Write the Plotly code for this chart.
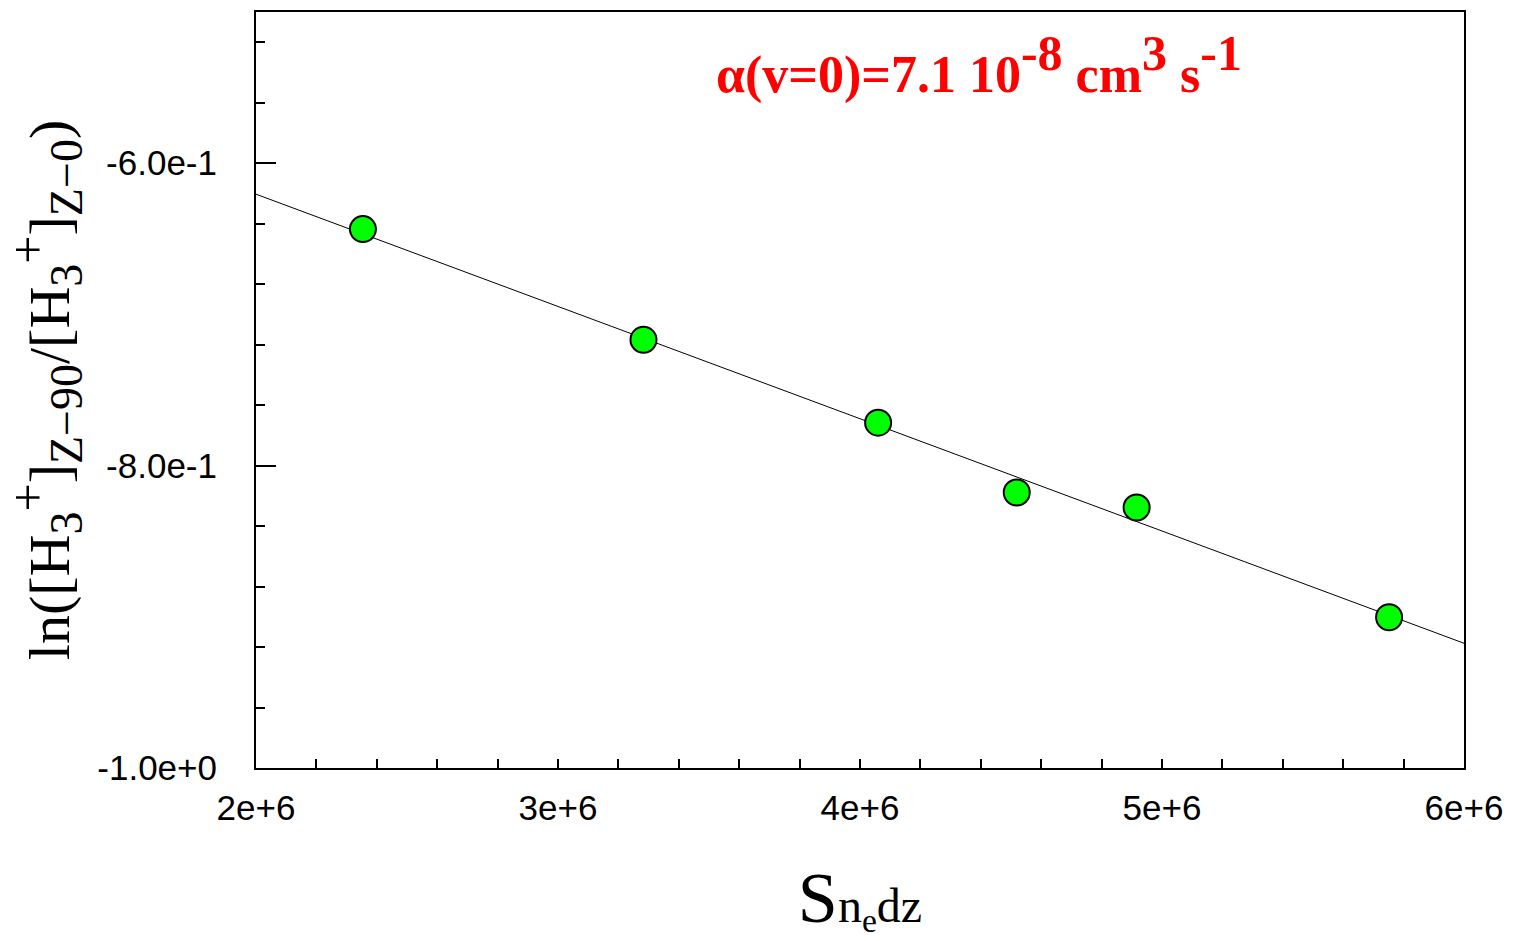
import plotly.graph_objects as go

# data
x_pts = [2.354e6, 3.283e6, 4.060e6, 4.519e6, 4.916e6, 5.752e6]
y_pts = [-0.6436, -0.7168, -0.7716, -0.8178, -0.8277, -0.9003]

fit_x = [2.0e6, 6.0e6]
fit_y = [-0.6205, -0.9175]

x_tickvals = [2e6, 3e6, 4e6, 5e6, 6e6]
x_ticktext = ["2e+6", "3e+6", "4e+6", "5e+6", "6e+6"]
y_tickvals = [-1.0, -0.8, -0.6]
y_ticktext = ["-1.0e+0", "-8.0e-1", "-6.0e-1"]

fig = go.Figure()
fig.add_trace(go.Scatter(x=fit_x, y=fit_y, mode="lines",
                         line=dict(color="black", width=1), showlegend=False))
fig.add_trace(go.Scatter(x=x_pts, y=y_pts, mode="markers",
                         marker=dict(color="#00ff00", size=26,
                                     line=dict(color="black", width=2)),
                         showlegend=False))

sup = "<sup><span style='font-size:50px'>{}</span></sup>"
fig.add_annotation(
    x=0.379, y=0.985, xref="paper", yref="paper", xanchor="left", yanchor="top",
    text="α(v=0)=7.1 10" + sup.format("-8") + " cm" + sup.format("3") + " s" + sup.format("-1"),
    showarrow=False,
    font=dict(family="Liberation Serif", size=52, color="#ff0000", weight="bold"),
)

ysub = "<sub><span style='font-size:46px'>{}</span></sub>"
ysup = "<sup><span style='font-size:50px'>{}</span></sup>"
ytitle = ("ln([H" + ysub.format("3") + ysup.format("+") + "]" + ysub.format("Z−90")
          + "/[H" + ysub.format("3") + ysup.format("+") + "]" + ysub.format("Z−0") + ")")

fig.update_layout(
    width=1513, height=941,
    margin=dict(l=256, r=47, t=10, b=173),
    paper_bgcolor="white", plot_bgcolor="white",
    xaxis=dict(
        range=[2e6, 6e6], showgrid=False, zeroline=False,
        showline=True, mirror=True, linecolor="black", linewidth=2,
        tickvals=x_tickvals, ticktext=x_ticktext,
        ticks="inside", ticklen=0, tickcolor="black",
        minor=dict(dtick=2e5, ticks="inside", ticklen=9, tickwidth=2, tickcolor="black"),
        tickfont=dict(family="Liberation Sans", size=35, color="black"),
        ticklabelstandoff=8,
        title=dict(text="<span style='font-size:72px'>S</span>n<sub>e</sub>dz",
                   font=dict(family="Liberation Serif", size=48, color="black"),
                   standoff=62),
    ),
    yaxis=dict(
        range=[-1.0, -0.5], showgrid=False, zeroline=False,
        showline=True, mirror=True, linecolor="black", linewidth=2,
        tickvals=y_tickvals, ticktext=y_ticktext,
        ticks="inside", ticklen=20, tickwidth=2, tickcolor="black",
        minor=dict(dtick=0.04, tick0=-1.0, ticks="inside", ticklen=9, tickwidth=2, tickcolor="black"),
        tickfont=dict(family="Liberation Sans", size=35, color="black"),
        ticklabelstandoff=30,
        title=dict(text=ytitle,
                   font=dict(family="Liberation Serif", size=58, color="black"),
                   standoff=18),
    ),
)

fig.write_html("out.html")
